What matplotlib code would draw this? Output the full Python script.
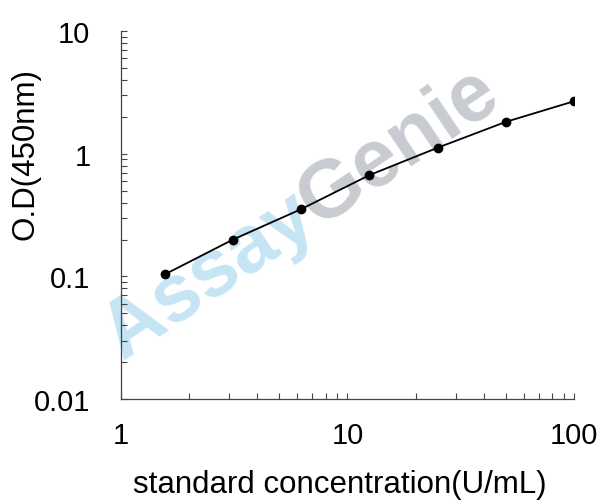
import numpy as np
import matplotlib.pyplot as plt
from matplotlib.ticker import LogLocator, FixedLocator, FixedFormatter, NullFormatter

plt.rcParams['font.family'] = ['Liberation Sans', 'DejaVu Sans']

# standard curve
conc = [1.5625, 3.125, 6.25, 12.5, 25, 50, 100]
od = [0.104, 0.20, 0.354, 0.67, 1.12, 1.82, 2.68]

xticks = [1, 10, 100]
xticklabels = ['1', '10', '100']
yticks = [0.01, 0.1, 1, 10]
yticklabels = ['0.01', '0.1', '1', '10']

fig = plt.figure(figsize=(6.08, 5.02), dpi=100)
ax = fig.add_axes([0.199, 0.203, 0.745, 0.733])

ax.plot(conc, od, color='black', linewidth=1.3, marker='o', markersize=6, zorder=3)

ax.set_xscale('log')
ax.set_yscale('log')
ax.set_xlim(1, 100)
ax.set_ylim(0.01, 10)

ax.xaxis.set_major_locator(FixedLocator(xticks))
ax.xaxis.set_major_formatter(FixedFormatter(xticklabels))
ax.yaxis.set_major_locator(FixedLocator(yticks))
ax.yaxis.set_major_formatter(FixedFormatter(yticklabels))
ax.xaxis.set_minor_locator(LogLocator(base=10, subs=np.arange(2, 10)))
ax.yaxis.set_minor_locator(LogLocator(base=10, subs=np.arange(2, 10)))
ax.xaxis.set_minor_formatter(NullFormatter())
ax.yaxis.set_minor_formatter(NullFormatter())

ax.tick_params(which='both', direction='in', length=4, width=0.8, color='#444444')
ax.tick_params(axis='x', which='major', labelsize=21, pad=16)
ax.tick_params(axis='y', which='major', labelsize=21, pad=22)

for s in ['top', 'right']:
    ax.spines[s].set_visible(False)
for s in ['left', 'bottom']:
    ax.spines[s].set_color('#444444')
    ax.spines[s].set_linewidth(0.9)

ax.set_xlabel('standard concentration(U/mL)', fontsize=22.5)
ax.set_ylabel('O.D(450nm)', fontsize=22.5)
ax.xaxis.set_label_coords(0.482, -0.19)
ax.yaxis.set_label_coords(-0.178, 0.668)

# watermark: "Assay" then "Genie" right after it along the same baseline
ang = 34
fs = 58
wm = dict(fontsize=fs, fontweight='bold', alpha=0.6, rotation=ang,
          rotation_mode='anchor', ha='left', va='baseline',
          transform=None, zorder=1)
x0, y0 = 122, 502 - 360  # pixel position of the start of the baseline
r = fig.canvas.get_renderer()
tmp = fig.text(0, 0, 'Assay', fontsize=fs, fontweight='bold')
w = tmp.get_window_extent(r).width
tmp.remove()
ax.text(x0, y0, 'Assay', color='#9fd3ee', **wm)
ax.text(x0 + w * np.cos(np.radians(ang)), y0 + w * np.sin(np.radians(ang)),
        'Genie', color='#a3a9b0', **wm)

fig.savefig('out.png', dpi=100)
